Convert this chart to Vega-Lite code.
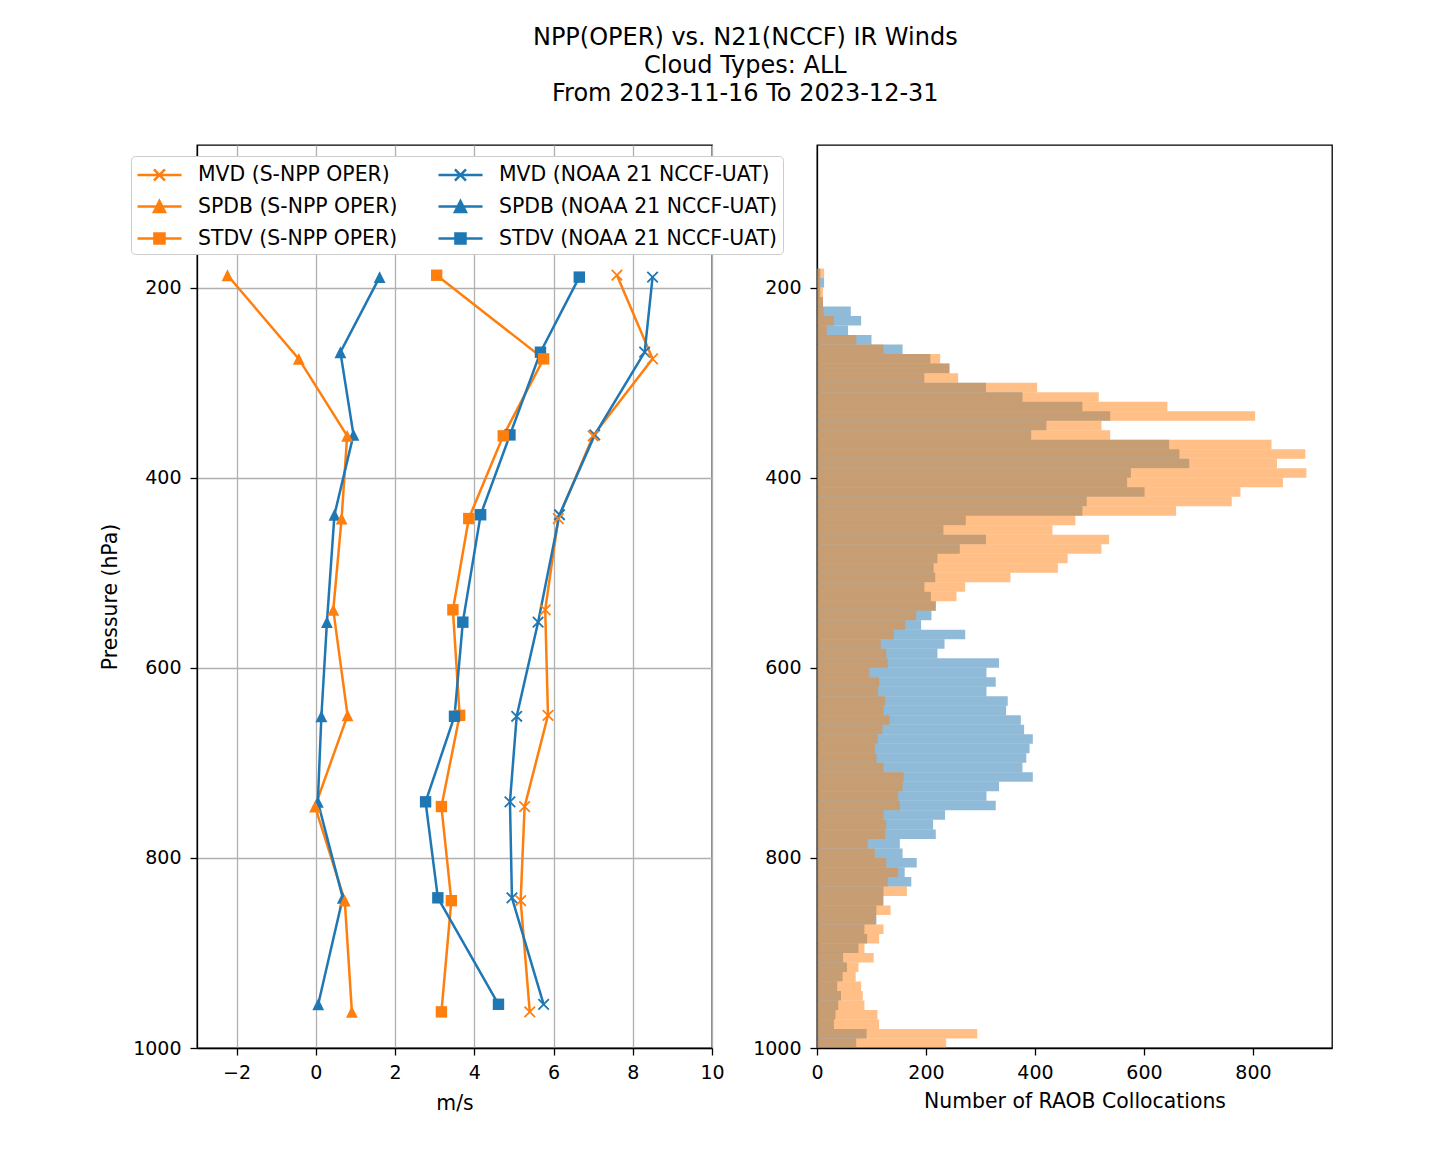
{
  "$schema": "https://vega.github.io/schema/vega-lite/v6.json",
  "background": "white",
  "padding": {"left": 99, "top": 26, "right": 20, "bottom": 20},
  "config": {
    "font": "DejaVu Sans",
    "view": {"stroke": "black", "strokeWidth": 1.3},
    "axis": {
      "labelFont": "DejaVu Sans", "labelFontSize": 19, "labelColor": "black",
      "titleFont": "DejaVu Sans", "titleFontSize": 20.4, "titleFontWeight": "normal", "titleColor": "black",
      "tickColor": "black", "tickSize": 7, "tickWidth": 1.3,
      "domainColor": "black", "domainWidth": 1.3,
      "labelFlush": false, "labelOverlap": false,
      "gridColor": "#b0b0b0", "gridWidth": 1.3
    },
    "axisX": {"labelPadding": 8},
    "axisY": {"labelPadding": 9}
  },
  "title": {
    "text": ["NPP(OPER) vs. N21(NCCF) IR Winds", "Cloud Types: ALL", "From 2023-11-16 To 2023-12-31"],
    "font": "DejaVu Sans", "fontSize": 24, "fontWeight": "normal", "color": "black",
    "lineHeight": 28, "anchor": "middle", "offset": 38, "dx": 29
  },
  "datasets": {
    "lines": [
      {"series": "MVD (S-NPP OPER)", "p": 187, "v": 7.60},
      {"series": "MVD (S-NPP OPER)", "p": 275, "v": 8.50},
      {"series": "MVD (S-NPP OPER)", "p": 356, "v": 7.00},
      {"series": "MVD (S-NPP OPER)", "p": 443, "v": 6.12},
      {"series": "MVD (S-NPP OPER)", "p": 539, "v": 5.79},
      {"series": "MVD (S-NPP OPER)", "p": 650, "v": 5.86},
      {"series": "MVD (S-NPP OPER)", "p": 746, "v": 5.27},
      {"series": "MVD (S-NPP OPER)", "p": 845, "v": 5.17},
      {"series": "MVD (S-NPP OPER)", "p": 962, "v": 5.40},
      {"series": "SPDB (S-NPP OPER)", "p": 187, "v": -2.23},
      {"series": "SPDB (S-NPP OPER)", "p": 275, "v": -0.43},
      {"series": "SPDB (S-NPP OPER)", "p": 356, "v": 0.79},
      {"series": "SPDB (S-NPP OPER)", "p": 443, "v": 0.65},
      {"series": "SPDB (S-NPP OPER)", "p": 539, "v": 0.44},
      {"series": "SPDB (S-NPP OPER)", "p": 650, "v": 0.80},
      {"series": "SPDB (S-NPP OPER)", "p": 746, "v": -0.02},
      {"series": "SPDB (S-NPP OPER)", "p": 845, "v": 0.73},
      {"series": "SPDB (S-NPP OPER)", "p": 962, "v": 0.91},
      {"series": "STDV (S-NPP OPER)", "p": 187, "v": 3.05},
      {"series": "STDV (S-NPP OPER)", "p": 275, "v": 5.75},
      {"series": "STDV (S-NPP OPER)", "p": 356, "v": 4.73},
      {"series": "STDV (S-NPP OPER)", "p": 443, "v": 3.86},
      {"series": "STDV (S-NPP OPER)", "p": 539, "v": 3.46},
      {"series": "STDV (S-NPP OPER)", "p": 650, "v": 3.63},
      {"series": "STDV (S-NPP OPER)", "p": 746, "v": 3.17},
      {"series": "STDV (S-NPP OPER)", "p": 845, "v": 3.42},
      {"series": "STDV (S-NPP OPER)", "p": 962, "v": 3.17},
      {"series": "MVD (NOAA 21 NCCF-UAT)", "p": 189, "v": 8.50},
      {"series": "MVD (NOAA 21 NCCF-UAT)", "p": 268, "v": 8.30},
      {"series": "MVD (NOAA 21 NCCF-UAT)", "p": 355, "v": 7.04},
      {"series": "MVD (NOAA 21 NCCF-UAT)", "p": 439, "v": 6.15},
      {"series": "MVD (NOAA 21 NCCF-UAT)", "p": 552, "v": 5.61},
      {"series": "MVD (NOAA 21 NCCF-UAT)", "p": 651, "v": 5.07},
      {"series": "MVD (NOAA 21 NCCF-UAT)", "p": 741, "v": 4.90},
      {"series": "MVD (NOAA 21 NCCF-UAT)", "p": 842, "v": 4.95},
      {"series": "MVD (NOAA 21 NCCF-UAT)", "p": 954, "v": 5.75},
      {"series": "SPDB (NOAA 21 NCCF-UAT)", "p": 189, "v": 1.61},
      {"series": "SPDB (NOAA 21 NCCF-UAT)", "p": 268, "v": 0.62},
      {"series": "SPDB (NOAA 21 NCCF-UAT)", "p": 355, "v": 0.95},
      {"series": "SPDB (NOAA 21 NCCF-UAT)", "p": 439, "v": 0.47},
      {"series": "SPDB (NOAA 21 NCCF-UAT)", "p": 552, "v": 0.28},
      {"series": "SPDB (NOAA 21 NCCF-UAT)", "p": 651, "v": 0.14},
      {"series": "SPDB (NOAA 21 NCCF-UAT)", "p": 741, "v": 0.05},
      {"series": "SPDB (NOAA 21 NCCF-UAT)", "p": 842, "v": 0.68},
      {"series": "SPDB (NOAA 21 NCCF-UAT)", "p": 954, "v": 0.06},
      {"series": "STDV (NOAA 21 NCCF-UAT)", "p": 189, "v": 6.65},
      {"series": "STDV (NOAA 21 NCCF-UAT)", "p": 268, "v": 5.67},
      {"series": "STDV (NOAA 21 NCCF-UAT)", "p": 355, "v": 4.90},
      {"series": "STDV (NOAA 21 NCCF-UAT)", "p": 439, "v": 4.16},
      {"series": "STDV (NOAA 21 NCCF-UAT)", "p": 552, "v": 3.71},
      {"series": "STDV (NOAA 21 NCCF-UAT)", "p": 651, "v": 3.50},
      {"series": "STDV (NOAA 21 NCCF-UAT)", "p": 741, "v": 2.77},
      {"series": "STDV (NOAA 21 NCCF-UAT)", "p": 842, "v": 3.08},
      {"series": "STDV (NOAA 21 NCCF-UAT)", "p": 954, "v": 4.61}
    ],
    "hist": [
      {"p0": 180, "p1": 190, "n21": 6, "npp": 13},
      {"p0": 190, "p1": 200, "n21": 13, "npp": 6},
      {"p0": 200, "p1": 210, "n21": 6, "npp": 11},
      {"p0": 210, "p1": 220, "n21": 11, "npp": 11},
      {"p0": 220, "p1": 230, "n21": 62, "npp": 12},
      {"p0": 230, "p1": 240, "n21": 81, "npp": 31},
      {"p0": 240, "p1": 250, "n21": 57, "npp": 18},
      {"p0": 250, "p1": 260, "n21": 100, "npp": 72},
      {"p0": 260, "p1": 270, "n21": 157, "npp": 122},
      {"p0": 270, "p1": 280, "n21": 208, "npp": 226},
      {"p0": 280, "p1": 290, "n21": 243, "npp": 243},
      {"p0": 290, "p1": 300, "n21": 197, "npp": 259},
      {"p0": 300, "p1": 310, "n21": 310, "npp": 404},
      {"p0": 310, "p1": 320, "n21": 377, "npp": 517},
      {"p0": 320, "p1": 330, "n21": 487, "npp": 643},
      {"p0": 330, "p1": 340, "n21": 538, "npp": 804},
      {"p0": 340, "p1": 350, "n21": 421, "npp": 522},
      {"p0": 350, "p1": 360, "n21": 393, "npp": 538},
      {"p0": 360, "p1": 370, "n21": 646, "npp": 834},
      {"p0": 370, "p1": 380, "n21": 665, "npp": 896},
      {"p0": 380, "p1": 390, "n21": 683, "npp": 844},
      {"p0": 390, "p1": 400, "n21": 576, "npp": 898},
      {"p0": 400, "p1": 410, "n21": 569, "npp": 855},
      {"p0": 410, "p1": 420, "n21": 601, "npp": 777},
      {"p0": 420, "p1": 430, "n21": 495, "npp": 761},
      {"p0": 430, "p1": 440, "n21": 487, "npp": 659},
      {"p0": 440, "p1": 450, "n21": 273, "npp": 474},
      {"p0": 450, "p1": 460, "n21": 232, "npp": 432},
      {"p0": 460, "p1": 470, "n21": 310, "npp": 536},
      {"p0": 470, "p1": 480, "n21": 262, "npp": 522},
      {"p0": 480, "p1": 490, "n21": 221, "npp": 460},
      {"p0": 490, "p1": 500, "n21": 214, "npp": 442},
      {"p0": 500, "p1": 510, "n21": 217, "npp": 355},
      {"p0": 510, "p1": 520, "n21": 197, "npp": 272},
      {"p0": 520, "p1": 530, "n21": 209, "npp": 256},
      {"p0": 530, "p1": 540, "n21": 218, "npp": 218},
      {"p0": 540, "p1": 550, "n21": 210, "npp": 182},
      {"p0": 550, "p1": 560, "n21": 191, "npp": 162},
      {"p0": 560, "p1": 570, "n21": 272, "npp": 141},
      {"p0": 570, "p1": 580, "n21": 234, "npp": 117},
      {"p0": 580, "p1": 590, "n21": 221, "npp": 127},
      {"p0": 590, "p1": 600, "n21": 334, "npp": 130},
      {"p0": 600, "p1": 610, "n21": 311, "npp": 96},
      {"p0": 610, "p1": 620, "n21": 328, "npp": 114},
      {"p0": 620, "p1": 630, "n21": 311, "npp": 112},
      {"p0": 630, "p1": 640, "n21": 350, "npp": 125},
      {"p0": 640, "p1": 650, "n21": 347, "npp": 122},
      {"p0": 650, "p1": 660, "n21": 374, "npp": 133},
      {"p0": 660, "p1": 670, "n21": 380, "npp": 120},
      {"p0": 670, "p1": 680, "n21": 396, "npp": 111},
      {"p0": 680, "p1": 690, "n21": 390, "npp": 106},
      {"p0": 690, "p1": 700, "n21": 384, "npp": 109},
      {"p0": 700, "p1": 710, "n21": 377, "npp": 122},
      {"p0": 710, "p1": 720, "n21": 396, "npp": 159},
      {"p0": 720, "p1": 730, "n21": 334, "npp": 157},
      {"p0": 730, "p1": 740, "n21": 311, "npp": 149},
      {"p0": 740, "p1": 750, "n21": 328, "npp": 152},
      {"p0": 750, "p1": 760, "n21": 235, "npp": 122},
      {"p0": 760, "p1": 770, "n21": 213, "npp": 127},
      {"p0": 770, "p1": 780, "n21": 218, "npp": 125},
      {"p0": 780, "p1": 790, "n21": 152, "npp": 93},
      {"p0": 790, "p1": 800, "n21": 157, "npp": 106},
      {"p0": 800, "p1": 810, "n21": 183, "npp": 127},
      {"p0": 810, "p1": 820, "n21": 161, "npp": 149},
      {"p0": 820, "p1": 830, "n21": 173, "npp": 130},
      {"p0": 830, "p1": 840, "n21": 122, "npp": 165},
      {"p0": 840, "p1": 850, "n21": 122, "npp": 121},
      {"p0": 850, "p1": 860, "n21": 109, "npp": 135},
      {"p0": 860, "p1": 870, "n21": 109, "npp": 108},
      {"p0": 870, "p1": 880, "n21": 87, "npp": 122},
      {"p0": 880, "p1": 890, "n21": 92, "npp": 114},
      {"p0": 890, "p1": 900, "n21": 76, "npp": 87},
      {"p0": 900, "p1": 910, "n21": 48, "npp": 104},
      {"p0": 910, "p1": 920, "n21": 55, "npp": 76},
      {"p0": 920, "p1": 930, "n21": 47, "npp": 71},
      {"p0": 930, "p1": 940, "n21": 37, "npp": 81},
      {"p0": 940, "p1": 950, "n21": 44, "npp": 84},
      {"p0": 950, "p1": 960, "n21": 39, "npp": 87},
      {"p0": 960, "p1": 970, "n21": 34, "npp": 111},
      {"p0": 970, "p1": 980, "n21": 31, "npp": 114},
      {"p0": 980, "p1": 990, "n21": 91, "npp": 294},
      {"p0": 990, "p1": 1000, "n21": 72, "npp": 237}
    ]
  },
  "spacing": 105,
  "bounds": "flush",
  "resolve": {"scale": {"color": "independent", "x": "independent", "y": "independent"}, "legend": {"color": "independent"}},
  "hconcat": [
    {
      "width": 515,
      "height": 903,
      "data": {"name": "lines"},
      "encoding": {
        "x": {"field": "v", "type": "quantitative",
              "scale": {"domain": [-3, 10], "nice": false, "zero": false},
              "axis": {"values": [-2, 0, 2, 4, 6, 8, 10], "format": "d", "title": "m/s", "grid": true, "titlePadding": 11}},
        "y": {"field": "p", "type": "quantitative",
              "scale": {"domain": [50, 1000], "reverse": true, "nice": false, "zero": false},
              "axis": {"values": [200, 400, 600, 800, 1000], "format": "d", "title": "Pressure (hPa)", "grid": true, "titlePadding": 12}},
        "order": {"field": "p", "type": "quantitative"},
        "color": {"field": "series", "type": "nominal",
          "scale": {"domain": ["MVD (S-NPP OPER)", "SPDB (S-NPP OPER)", "STDV (S-NPP OPER)", "MVD (NOAA 21 NCCF-UAT)", "SPDB (NOAA 21 NCCF-UAT)", "STDV (NOAA 21 NCCF-UAT)"],
                    "range": ["#ff7f0e", "#ff7f0e", "#ff7f0e", "#1f77b4", "#1f77b4", "#1f77b4"]},
          "legend": {
            "title": null, "orient": "none", "legendX": -66, "legendY": 11,
            "columns": 2, "columnPadding": 35, "rowPadding": 7, "padding": 5,
            "fillColor": "white", "strokeColor": "#cccccc", "cornerRadius": 4,
            "symbolSize": 576, "symbolStrokeWidth": 2.5, "symbolOpacity": 1,
            "labelFont": "DejaVu Sans", "labelFontSize": 20.4, "labelColor": "black", "labelOffset": 35, "labelLimit": 500,
            "encode": {
              "symbols": {
                "update": {
                  "shape": {"signal": "indexof(datum.value,'MVD')==0 ? 'M-1,0L2.67,0M0.37,-0.46L1.29,0.46M0.37,0.46L1.29,-0.46' : (indexof(datum.value,'SPDB')==0 ? 'M-1,0L2.67,0M0.83,-0.46L1.29,0.46L0.37,0.46Z' : 'M-1,0L2.67,0M0.41,-0.42L1.25,-0.42L1.25,0.42L0.41,0.42Z')"}
                }
              }
            }
          }
        }
      },
      "layer": [
        {
          "mark": {"type": "line", "strokeWidth": 2.5}
        },
        {
          "transform": [{"filter": {"field": "series", "oneOf": ["MVD (S-NPP OPER)", "MVD (NOAA 21 NCCF-UAT)"]}}],
          "mark": {"type": "point", "shape": "M-1,-1L1,1M-1,1L1,-1", "filled": false, "size": 110, "opacity": 1, "strokeWidth": 1.8}
        },
        {
          "transform": [{"filter": {"field": "series", "oneOf": ["SPDB (S-NPP OPER)", "SPDB (NOAA 21 NCCF-UAT)"]}}],
          "mark": {"type": "point", "shape": "M0,-1L1,1L-1,1Z", "filled": true, "size": 140, "opacity": 1}
        },
        {
          "transform": [{"filter": {"field": "series", "oneOf": ["STDV (S-NPP OPER)", "STDV (NOAA 21 NCCF-UAT)"]}}],
          "mark": {"type": "point", "shape": "M-1,-1L1,-1L1,1L-1,1Z", "filled": true, "size": 130, "opacity": 1}
        }
      ]
    },
    {
      "width": 515,
      "height": 903,
      "data": {"name": "hist"},
      "transform": [{"fold": ["n21", "npp"], "as": ["sat", "n"]}],
      "mark": {"type": "rect", "opacity": 0.5},
      "encoding": {
        "x": {"field": "n", "type": "quantitative",
              "scale": {"domain": [0, 945], "nice": false, "zero": false},
              "axis": {"values": [0, 200, 400, 600, 800], "format": "d", "title": "Number of RAOB Collocations", "grid": false, "titlePadding": 9}},
        "x2": {"datum": 0},
        "y": {"field": "p0", "type": "quantitative",
              "scale": {"domain": [50, 1000], "reverse": true, "nice": false, "zero": false},
              "axis": {"values": [200, 400, 600, 800, 1000], "format": "d", "title": null, "grid": false}},
        "y2": {"field": "p1"},
        "color": {"field": "sat", "type": "nominal",
                  "scale": {"domain": ["n21", "npp"], "range": ["#1f77b4", "#ff7f0e"]}, "legend": null}
      }
    }
  ]
}
